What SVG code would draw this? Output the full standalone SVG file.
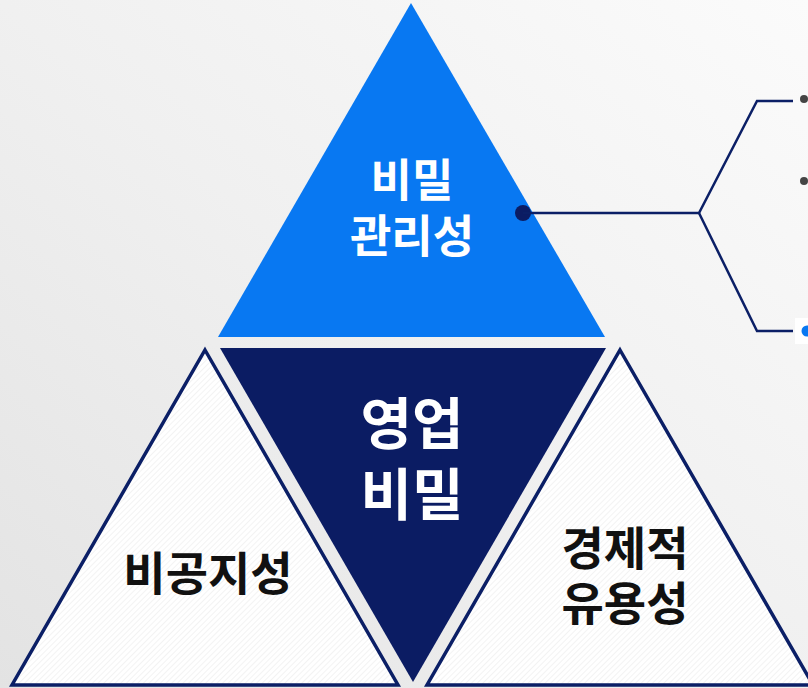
<svg xmlns="http://www.w3.org/2000/svg" width="808" height="688" viewBox="0 0 808 688">
<defs>
<linearGradient id="bg" x1="1" y1="0" x2="0" y2="1">
<stop offset="0" stop-color="#fbfbfb"/>
<stop offset="0.5" stop-color="#f0f0f0"/>
<stop offset="1" stop-color="#e3e3e3"/>
</linearGradient>
<pattern id="hatch" width="4" height="4" patternUnits="userSpaceOnUse" patternTransform="rotate(45)">
<rect width="4" height="4" fill="#ffffff"/>
<line x1="0" y1="0" x2="0" y2="4" stroke="#ececec" stroke-width="1.2"/>
</pattern>
<style>
.lbl{font-family:"Noto Sans CJK KR","Noto Sans",sans-serif;font-weight:700;text-anchor:middle}
.w{fill:#ffffff}
.k{fill:#111111}
.out{fill:url(#hatch);stroke:#0b1f66;stroke-width:3.5;stroke-linejoin:miter}
.conn{fill:none;stroke:#0b1f66;stroke-width:2.5}
</style>
</defs>
<rect width="808" height="688" fill="url(#bg)"/>
<g id="top">
<polygon points="411,3 605,337 218,337" fill="#0878f2"/>
<text class="lbl w" x="412" y="197" font-size="45">비밀</text>
<text class="lbl w" x="412" y="253" font-size="45">관리성</text>
</g>
<g id="center">
<polygon points="220,348 606,348 413,682" fill="#0b1c63"/>
<text class="lbl w" x="412" y="444" font-size="56">영업</text>
<text class="lbl w" x="412" y="515" font-size="56">비밀</text>
</g>
<g id="left">
<polygon class="out" points="205,350 398,685 12,685"/>
<text class="lbl k" x="208" y="590" font-size="46">비공지성</text>
</g>
<g id="right">
<polygon class="out" points="620,350 813,685 427,685"/>
<text class="lbl k" x="625" y="565" font-size="46">경제적</text>
<text class="lbl k" x="625" y="620" font-size="46">유용성</text>
</g>
<g id="connectors">
<circle cx="523" cy="213" r="8" fill="#0b1c63"/>
<polyline class="conn" points="523,213 699,213 757,101 793,101"/>
<polyline class="conn" points="699,213 757,331 793,331"/>
</g>
<g id="bullets">
<rect x="795" y="318" width="13" height="26" fill="#ffffff"/>
<circle cx="804" cy="99" r="4" fill="#444444"/>
<circle cx="804" cy="181" r="4" fill="#444444"/>
<circle cx="807" cy="331" r="5.5" fill="#0878f2"/>
</g>
</svg>
